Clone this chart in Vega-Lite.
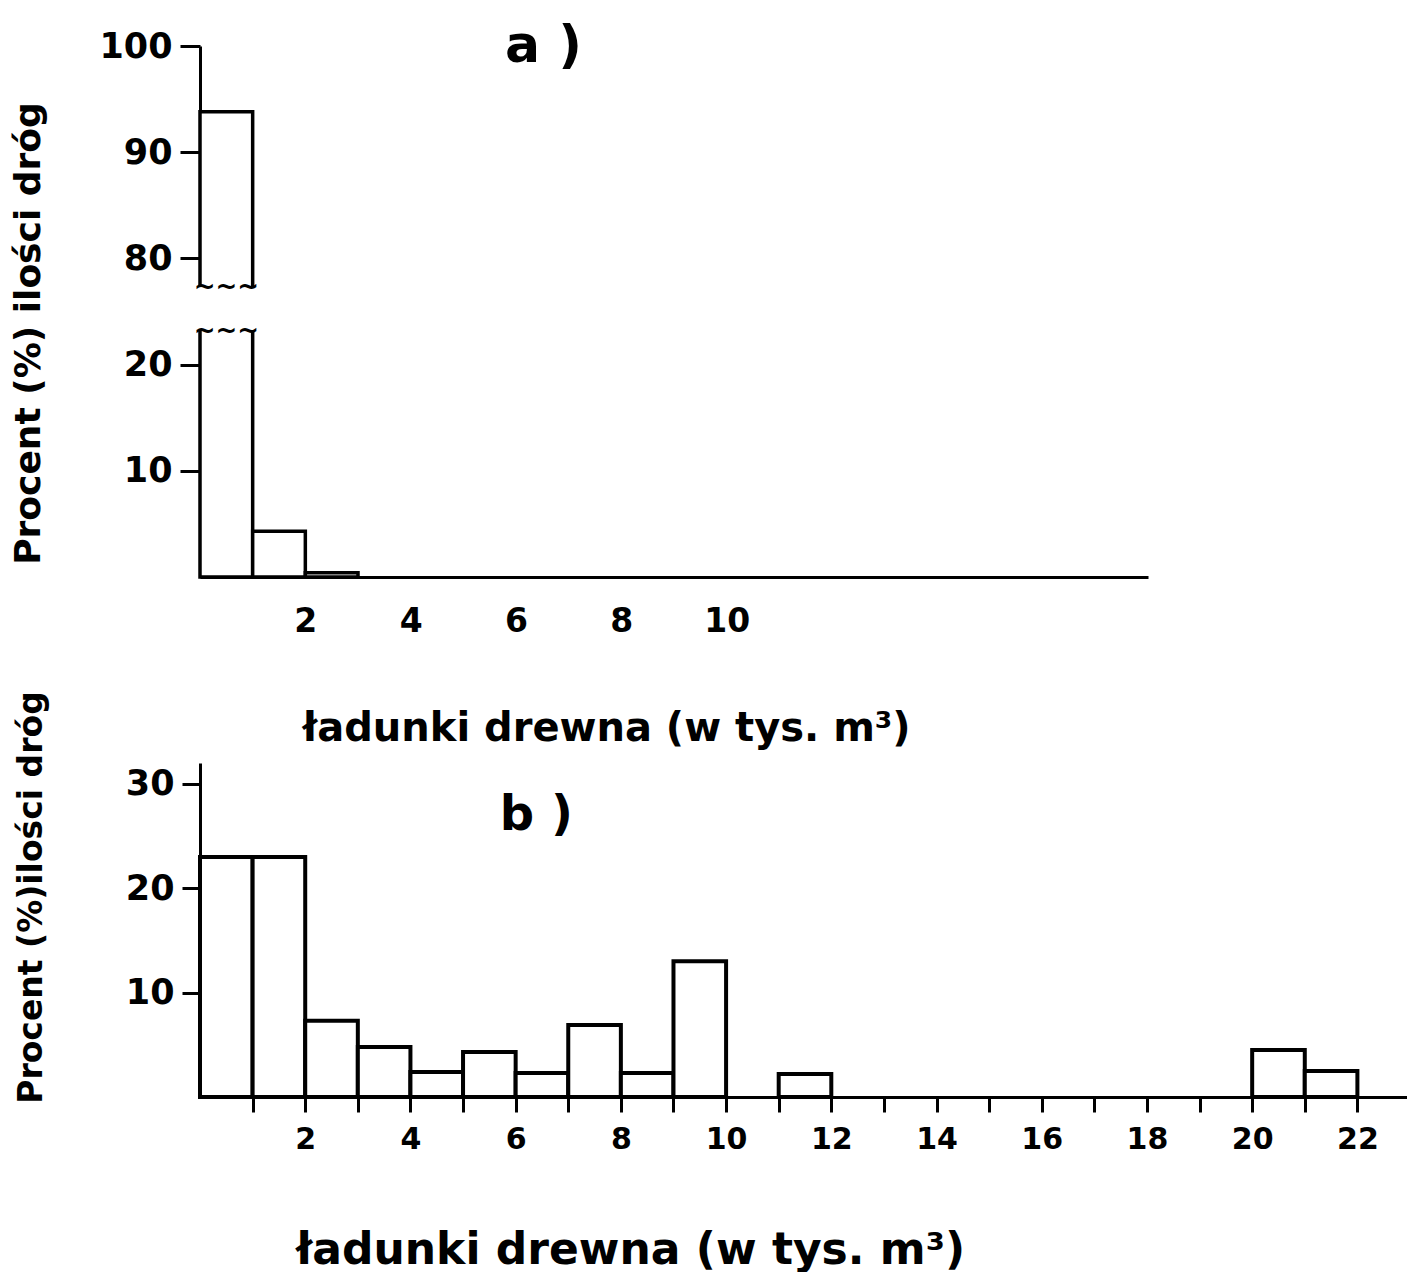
{
  "$schema": "https://vega.github.io/schema/vega-lite/v6.json",
  "background": "white",
  "padding": {"left": 10, "top": 19, "right": 0, "bottom": 0},
  "bounds": "flush",
  "spacing": 186,
  "config": {
    "view": {"stroke": null},
    "font": "DejaVu Sans",
    "axis": {
      "grid": false,
      "domainColor": "black",
      "domainWidth": 3,
      "tickColor": "black",
      "tickWidth": 3,
      "labelColor": "black",
      "titleColor": "black",
      "labelFont": "DejaVu Sans",
      "labelFontWeight": "bold",
      "titleFont": "DejaVu Sans",
      "titleFontWeight": "bold"
    }
  },
  "vconcat": [
    {
      "width": 948,
      "height": 531,
      "data": {"values": [
        {"start": 0, "end": 1, "pct": 93.8},
        {"start": 1, "end": 2, "pct": 4.3},
        {"start": 2, "end": 3, "pct": 0.4}
      ]},
      "layer": [
        {
          "mark": {"type": "rect", "fill": "white", "stroke": "black", "strokeWidth": 3.5},
          "encoding": {
            "x": {"field": "start", "type": "quantitative",
              "scale": {"domain": [0, 18], "nice": false, "zero": false},
              "axis": {"values": [2, 4, 6, 8, 10], "ticks": false, "labelPadding": 28, "labelFontSize": 33,
                "title": "ładunki drewna (w tys. m³)", "titleFontSize": 40, "titleX": 406, "titleY": 151,
                "titleAlign": "center", "titleBaseline": "middle"}},
            "x2": {"field": "end"},
            "y": {"field": "pct", "type": "quantitative",
              "scale": {"domain": [0, 25, 75, 100], "range": [531, 265.5, 265.5, 0], "nice": false},
              "axis": {"values": [10, 20, 80, 90, 100], "tickSize": 20, "labelPadding": 8, "labelFontSize": 35,
                "title": "Procent (%) ilości dróg", "titleFontSize": 36, "titleX": -172, "titleY": 287,
                "titleAngle": -90, "titleAlign": "center", "titleBaseline": "middle"}},
            "y2": {"datum": 0}
          }
        },
        {
          "data": {"values": [{"low": 23.2, "high": 77.3}]},
          "mark": {"type": "rect", "fill": "white"},
          "encoding": {
            "x": {"datum": -0.15},
            "x2": {"datum": 1.1},
            "y": {"field": "low", "type": "quantitative"},
            "y2": {"field": "high"}
          }
        },
        {
          "data": {"values": [{"edge": 23.2}, {"edge": 77.3}]},
          "mark": {"type": "text", "text": "~~~", "fontSize": 26, "fontWeight": "bold", "baseline": "middle", "align": "center", "color": "black"},
          "encoding": {
            "x": {"datum": 0.5},
            "y": {"field": "edge", "type": "quantitative"}
          }
        },
        {
          "data": {"values": [{"panel": "a )", "px": 5.79, "py": 98.5}]},
          "mark": {"type": "text", "fontSize": 52, "fontWeight": "bold", "baseline": "alphabetic", "align": "left", "color": "black"},
          "encoding": {
            "text": {"field": "panel"},
            "x": {"field": "px", "type": "quantitative"},
            "y": {"field": "py", "type": "quantitative"}
          }
        }
      ]
    },
    {
      "width": 1210,
      "height": 334,
      "layer": [
        {
          "data": {"values": [
            {"start": 0, "end": 1, "pct": 23},
            {"start": 1, "end": 2, "pct": 23},
            {"start": 2, "end": 3, "pct": 7.3},
            {"start": 3, "end": 4, "pct": 4.8},
            {"start": 4, "end": 5, "pct": 2.4},
            {"start": 5, "end": 6, "pct": 4.3},
            {"start": 6, "end": 7, "pct": 2.3},
            {"start": 7, "end": 8, "pct": 6.9},
            {"start": 8, "end": 9, "pct": 2.3},
            {"start": 9, "end": 10, "pct": 13},
            {"start": 11, "end": 12, "pct": 2.2},
            {"start": 20, "end": 21, "pct": 4.5},
            {"start": 21, "end": 22, "pct": 2.5}
          ]},
          "mark": {"type": "rect", "fill": "white", "stroke": "black", "strokeWidth": 4},
          "encoding": {
            "x": {"field": "start", "type": "quantitative",
              "scale": {"domain": [0, 23], "nice": false, "zero": false},
              "axis": {"values": [1,2,3,4,5,6,7,8,9,10,11,12,13,14,15,16,17,18,19,20,21,22,23],
                "labelExpr": "datum.value % 2 == 0 ? datum.label : ''",
                "tickSize": 15, "labelPadding": 12, "labelFontSize": 30,
                "title": "ładunki drewna (w tys. m³)", "titleFontSize": 44, "titleX": 430, "titleY": 153,
                "titleAlign": "center", "titleBaseline": "middle"}},
            "x2": {"field": "end"},
            "y": {"field": "pct", "type": "quantitative",
              "scale": {"domain": [0, 32], "nice": false},
              "axis": {"values": [10, 20, 30], "tickSize": 18, "labelPadding": 8, "labelFontSize": 35,
                "title": "Procent (%)ilości dróg", "titleFontSize": 33, "titleX": -169, "titleY": 134,
                "titleAngle": -90, "titleAlign": "center", "titleBaseline": "middle"}},
            "y2": {"datum": 0}
          }
        },
        {
          "data": {"values": [{"panel": "b )", "px": 5.7, "py": 25.6}]},
          "mark": {"type": "text", "fontSize": 48, "fontWeight": "bold", "baseline": "alphabetic", "align": "left", "color": "black"},
          "encoding": {
            "text": {"field": "panel"},
            "x": {"field": "px", "type": "quantitative"},
            "y": {"field": "py", "type": "quantitative"}
          }
        }
      ]
    }
  ]
}
